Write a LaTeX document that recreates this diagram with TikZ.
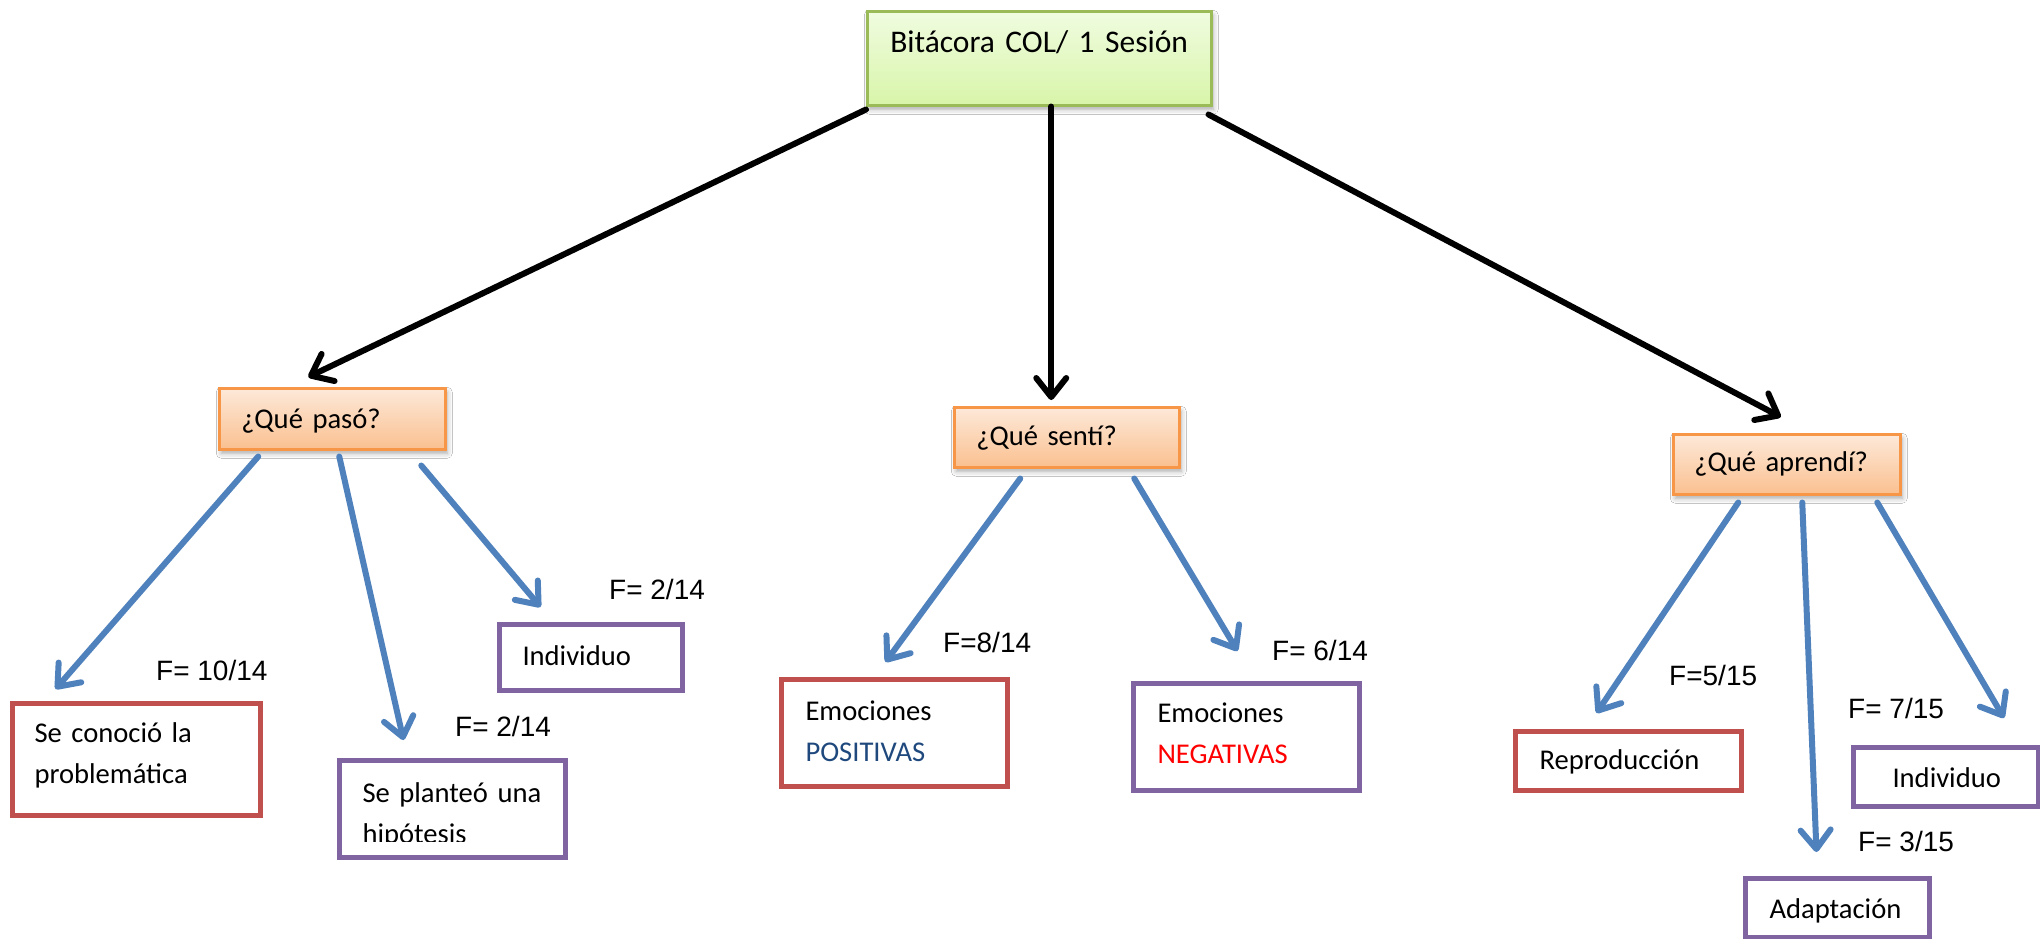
\documentclass[tikz,border=0pt]{standalone}
\usepackage{fontspec}
\setmainfont{Carlito}
\newfontfamily\arialfont{Liberation Sans}
\usetikzlibrary{arrows.meta,shadows.blur}

\definecolor{headborder}{HTML}{9BBB59}
\definecolor{headtop}{HTML}{F0FCE0}
\definecolor{headbot}{HTML}{D8F5A9}
\definecolor{qborder}{HTML}{F79646}
\definecolor{qtop}{HTML}{FDE9D9}
\definecolor{qbot}{HTML}{FAC090}
\definecolor{boxred}{HTML}{C0504D}
\definecolor{boxpurple}{HTML}{8064A2}
\definecolor{arrowblue}{HTML}{4F81BD}
\definecolor{posblue}{HTML}{1F497D}
\definecolor{negred}{HTML}{FF0000}

\tikzset{
  basebox/.style={anchor=north west, inner ysep=0pt, align=left,
    font=\fontsize{28.6}{41}\selectfont},
  softshadow/.style={blur shadow={shadow xshift=2pt, shadow yshift=-4pt,
    shadow blur radius=5pt, shadow opacity=35}},
  headbox/.style={basebox, draw=headborder, line width=2.5pt,
    top color=headtop, bottom color=headbot, softshadow,
    font=\fontsize{31.5}{38}\selectfont},
  qbox/.style={basebox, draw=qborder, line width=2.5pt,
    top color=qtop, bottom color=qbot, softshadow},
  redbox/.style={basebox, draw=boxred, line width=5pt, fill=white},
  purbox/.style={basebox, draw=boxpurple, line width=5pt, fill=white},
  freq/.style={anchor=base west, inner sep=0pt,
    font=\arialfont\fontsize{28}{30}\selectfont},
  mainarrow/.style={line width=6pt, draw=black, line cap=round, line join=round,
    -{Straight Barb[length=19pt,width=30pt,line cap=round,line join=round]}},
  subarrow/.style={mainarrow, draw=arrowblue},
}

\begin{document}
\begin{tikzpicture}[x=1pt,y=-1pt]
\path[fill=white,use as bounding box] (0,0) rectangle (2040,938);

% root
\node[headbox, inner xsep=23pt, text width=298pt, text height=41pt, text depth=53pt]
  (top) at (866,10) {Bitácora COL/ 1 Sesión};

% questions
\node[qbox, inner xsep=22pt, text width=182pt, text height=40pt, text depth=21pt]
  (pas) at (218,387) {¿Qué pasó?};
\node[qbox, inner xsep=22pt, text width=181pt, text height=38pt, text depth=22pt]
  (sen) at (953,406) {¿Qué sentí?};
\node[qbox, inner xsep=21pt, text width=185pt, text height=37pt, text depth=23pt]
  (apr) at (1672,433) {¿Qué aprendí?};

% answers of "¿Qué pasó?"
\node[redbox, inner xsep=22pt, text width=204pt, text height=39pt, text depth=73pt]
  (con) at (10,701) {Se conoció la\\problemática};
\node[purbox, inner xsep=23pt, text width=180pt, text height=42pt, text depth=55pt]
  (hip) at (337,758) {\mbox{Se planteó una}\\hipótesis};
% the text frame cuts off the descenders of the last line
\fill[white] (343,842) rectangle (557,851.5);
\node[purbox, inner xsep=23pt, text width=137pt, text height=41pt, text depth=25pt]
  (ind1) at (497,622) {Individuo};

% answers of "¿Qué sentí?"
\node[redbox, inner xsep=24pt, text width=178pt, text height=41pt, text depth=66pt]
  (pos) at (779,677) {Emociones\\\textcolor{posblue}{POSITIVAS}};
\node[purbox, inner xsep=24pt, text width=178pt, text height=39pt, text depth=68pt]
  (neg) at (1131,681) {Emociones\\\textcolor{negred}{NEGATIVAS}};

% answers of "¿Qué aprendí?"
\node[redbox, inner xsep=24pt, text width=178pt, text height=38pt, text depth=21pt]
  (rep) at (1513,729) {Reproducción};
\node[purbox, inner xsep=24pt, text width=136pt, text height=40pt, text depth=19pt]
  (ada) at (1743,876) {Adaptación};
\node[purbox, inner xsep=39pt, text width=107pt, text height=40pt, text depth=19pt]
  (ind2) at (1851,745) {Individuo};

% frequencies
\node[freq] (f1) at (156,680) {F= 10/14};
\node[freq] (f2) at (455,736) {F= 2/14};
\node[freq] (f3) at (609,599) {F= 2/14};
\node[freq] (f4) at (943,652) {F=8/14};
\node[freq] (f5) at (1272,660) {F= 6/14};
\node[freq] (f6) at (1669,685) {F=5/15};
\node[freq] (f7) at (1848,718) {F= 7/15};
\node[freq] (f8) at (1858,851) {F= 3/15};

% root to questions
\draw[mainarrow] ([yshift=-3pt]top.south west) -- ([xshift=-24pt,yshift=10pt]pas.north);
\draw[mainarrow] ([xshift=12pt]top.south) -- ([xshift=-15.5pt,yshift=6pt]sen.north);
\draw[mainarrow] ([xshift=-4pt,yshift=-8pt]top.south east) -- ([xshift=-6pt,yshift=16pt]apr.north);

% questions to answers
\draw[subarrow] ([xshift=-74pt,yshift=-6pt]pas.south) -- ([xshift=-81pt,yshift=12pt]con.north);
\draw[subarrow] ([xshift=7pt,yshift=-6pt]pas.south) -- ([xshift=-49pt,yshift=18pt]hip.north);
\draw[subarrow] ([xshift=89pt,yshift=-15pt]pas.south) -- ([xshift=-50.5pt,yshift=15pt]ind1.north);

\draw[subarrow] ([xshift=-46.5pt,yshift=-10pt]sen.south) -- ([xshift=-9pt,yshift=15pt]pos.north);
\draw[subarrow] ([xshift=67.5pt,yshift=-10pt]sen.south) -- ([xshift=-9pt,yshift=30pt]neg.north);

\draw[subarrow] ([xshift=-48.5pt,yshift=-7pt]apr.south) -- ([xshift=-32pt,yshift=16pt]rep.north);
\draw[subarrow] ([xshift=15.5pt,yshift=-7pt]apr.south) -- ([xshift=-21pt,yshift=24pt]ada.north);
\draw[subarrow] ([xshift=90.5pt,yshift=-7pt]apr.south) -- ([xshift=58pt,yshift=27pt]ind2.north);
\end{tikzpicture}
\end{document}
